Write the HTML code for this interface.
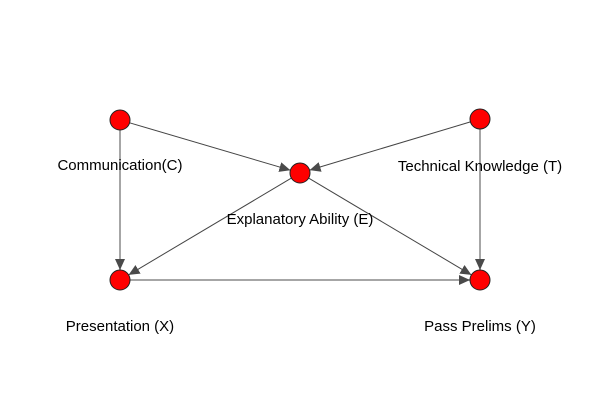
<!DOCTYPE html>
<html><head><meta charset="utf-8"><style>
html,body{margin:0;padding:0;background:#fff;}
svg{display:block;}
text{font-family:"Liberation Sans",Arial,sans-serif;font-size:15px;fill:#000;text-anchor:middle;}
</style></head><body>
<svg width="600" height="400" viewBox="0 0 600 400">
<defs>
<marker id="a" markerUnits="userSpaceOnUse" markerWidth="12" markerHeight="10" refX="11" refY="5" orient="auto">
<path d="M0,0 L11,5 L0,10 Z" fill="#4a4a4a"/>
</marker>
</defs>
<g stroke-width="1" fill="none">
<line x1="129.6" y1="122.8" x2="290.4" y2="170.2" stroke="#444" marker-end="url(#a)"/>
<line x1="470.4" y1="121.9" x2="309.6" y2="170.1" stroke="#444" marker-end="url(#a)"/>
<line x1="291.4" y1="178.1" x2="128.6" y2="274.9" stroke="#444" marker-end="url(#a)"/>
<line x1="308.6" y1="178.1" x2="471.4" y2="274.9" stroke="#444" marker-end="url(#a)"/>
<line x1="120" y1="130" x2="120" y2="270" stroke="#888" stroke-width="1.5" marker-end="url(#a)"/>
<line x1="480" y1="129" x2="480" y2="270" stroke="#888" stroke-width="1.5" marker-end="url(#a)"/>
<line x1="130" y1="280" x2="470" y2="280" stroke="#888" stroke-width="1.5" marker-end="url(#a)"/>
</g>
<text x="120" y="170">Communication(C)</text>
<text x="480" y="171">Technical Knowledge (T)</text>
<text x="300" y="224">Explanatory Ability (E)</text>
<text x="120" y="331">Presentation (X)</text>
<text x="480" y="331">Pass Prelims (Y)</text>
<g fill="#ff0000" stroke="#222" stroke-width="1">
<circle cx="120" cy="120" r="10"/>
<circle cx="480" cy="119" r="10"/>
<circle cx="300" cy="173" r="10"/>
<circle cx="120" cy="280" r="10"/>
<circle cx="480" cy="280" r="10"/>
</g>
</svg>
</body></html>
